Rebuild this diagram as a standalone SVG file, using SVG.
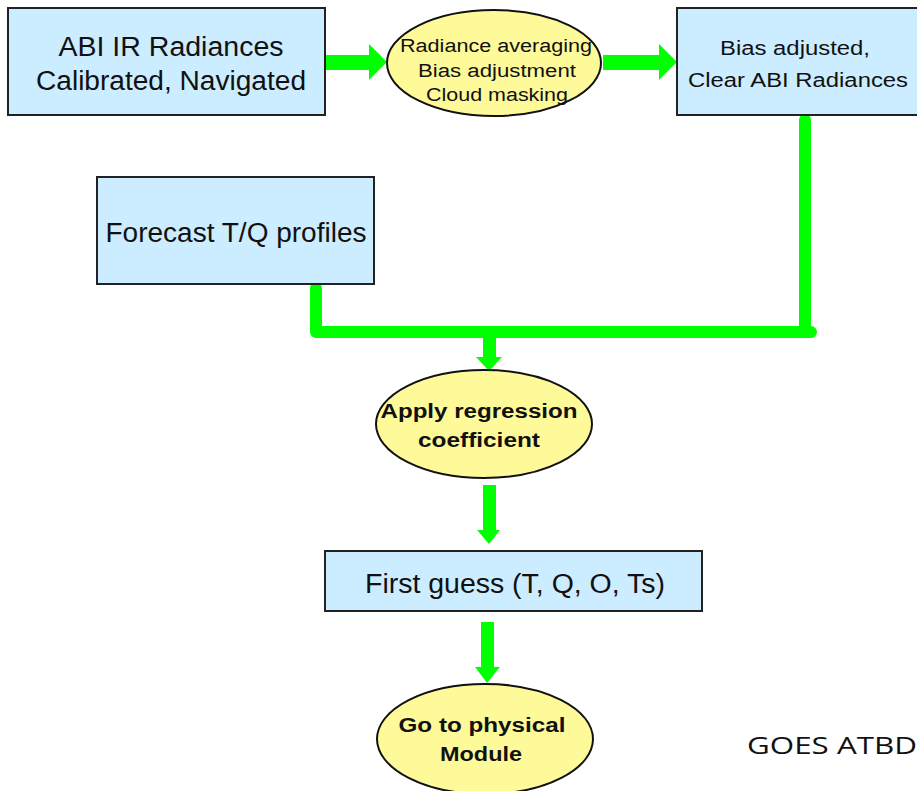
<svg xmlns="http://www.w3.org/2000/svg" width="917" height="791" viewBox="0 0 917 791">
<style>
.box{fill:#CCECFF;stroke:#222;stroke-width:2}
.ell{fill:#FFFA99;stroke:#111;stroke-width:2}
.t{font-family:"Liberation Sans",Arial,sans-serif;fill:#111;text-anchor:middle}
.b{font-weight:bold}
.g{fill:#00FF00}
.gl{fill:none;stroke:#00FF00;stroke-width:12;stroke-linecap:round;stroke-linejoin:round}
</style>
<rect width="917" height="791" fill="#fff"/>
<g id="connectors">
<polygon class="g" points="325,55 369,55 369,44 387,62 369,80 369,70 325,70"/>
<polygon class="g" points="603,55 659,55 659,44 677,62 659,80 659,70 603,70"/>
<path class="gl" d="M316,288 V332 H811 M805,120 V332"/>
<polygon class="g" points="483,334 496,334 496,357 502,357 489,371 476,357 483,357"/>
<polygon class="g" points="483,485 496,485 496,530 500,530 489,544 477,530 483,530"/>
<polygon class="g" points="481,622 494,622 494,667 500,667 487,683 475,667 481,667"/>
</g>
<g id="n1">
<rect class="box" x="8" y="8" width="317" height="107"/>
<text class="t" x="171" y="56" font-size="27" textLength="225" lengthAdjust="spacingAndGlyphs">ABI IR Radiances</text>
<text class="t" x="171" y="90" font-size="27" textLength="270" lengthAdjust="spacingAndGlyphs">Calibrated, Navigated</text>
</g>
<g id="n2">
<ellipse class="ell" cx="494" cy="63" rx="107" ry="53"/>
<text class="t" x="496" y="52" font-size="18" textLength="192" lengthAdjust="spacingAndGlyphs">Radiance averaging</text>
<text class="t" x="497" y="77" font-size="18" textLength="158" lengthAdjust="spacingAndGlyphs">Bias adjustment</text>
<text class="t" x="497" y="101" font-size="18" textLength="142" lengthAdjust="spacingAndGlyphs">Cloud masking</text>
</g>
<g id="n3">
<rect class="box" x="677" y="8" width="245" height="107"/>
<text class="t" x="795" y="55" font-size="20" textLength="150" lengthAdjust="spacingAndGlyphs">Bias adjusted,</text>
<text class="t" x="798" y="87" font-size="20" textLength="220" lengthAdjust="spacingAndGlyphs">Clear ABI Radiances</text>
</g>
<g id="n4">
<rect class="box" x="97" y="177" width="277" height="107"/>
<text class="t" x="236" y="242" font-size="27" textLength="261" lengthAdjust="spacingAndGlyphs">Forecast T/Q profiles</text>
</g>
<g id="n5">
<ellipse class="ell" cx="484" cy="424" rx="108" ry="54"/>
<text class="t b" x="479" y="418" font-size="20" textLength="197" lengthAdjust="spacingAndGlyphs">Apply regression</text>
<text class="t b" x="479" y="447" font-size="20" textLength="122" lengthAdjust="spacingAndGlyphs">coefficient</text>
</g>
<g id="n6">
<rect class="box" x="325" y="551" width="377" height="60"/>
<text class="t" x="515" y="593" font-size="27" textLength="300" lengthAdjust="spacingAndGlyphs">First guess (T, Q, O, Ts)</text>
</g>
<g id="n7">
<ellipse class="ell" cx="485" cy="739" rx="108" ry="55"/>
<text class="t b" x="482" y="732" font-size="20" textLength="167" lengthAdjust="spacingAndGlyphs">Go to physical</text>
<text class="t b" x="481" y="761" font-size="20" textLength="82" lengthAdjust="spacingAndGlyphs">Module</text>
</g>
<text x="747" y="754" font-family="'Open Sans','Liberation Sans',sans-serif" font-size="24" fill="#111" textLength="170" lengthAdjust="spacingAndGlyphs">GOES ATBD</text>
</svg>
